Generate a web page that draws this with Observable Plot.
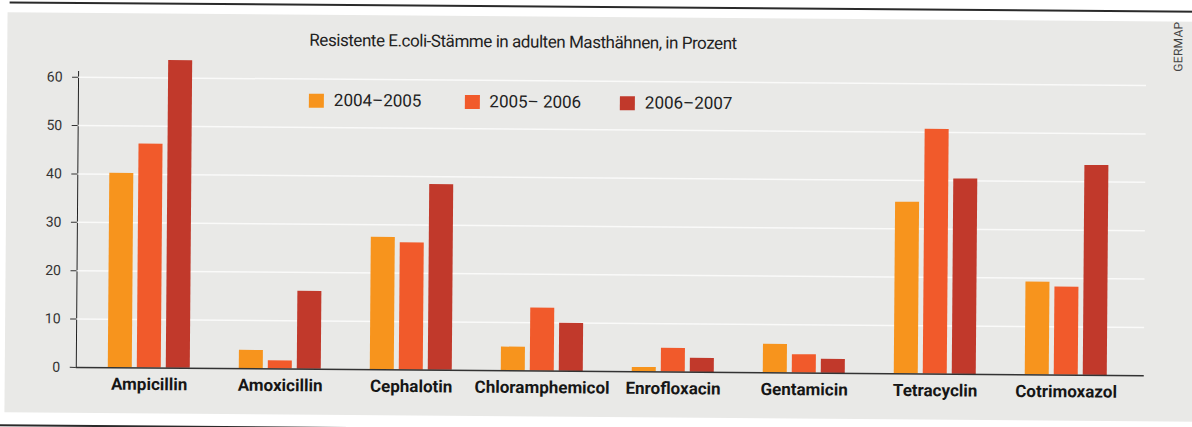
<!DOCTYPE html>
<html>
<head>
<meta charset="utf-8">
<script src="https://cdn.jsdelivr.net/npm/d3@7"></script>
<script src="https://cdn.jsdelivr.net/npm/@observablehq/plot@0.6"></script>
<style>
  html, body { margin:0; padding:0; background:#ffffff; width:1192px; height:427px; overflow:hidden; }
  #page { position:absolute; left:0; top:0; width:1192px; height:440px;
          transform: rotate(0.45deg); transform-origin: 596px 213.5px;
          font-family: Roboto, "Noto Sans", sans-serif; }
  .rule { position:absolute; height:2px; background:#2a2a2a; }
  #panel { position:absolute; left:6px; top:17px; width:1192px; height:400px; background:#e9e9e7; }
  #chart { position:absolute; left:0; top:0; }
  #title { position:absolute; left:308px; top:34px; font-size:17px; line-height:17px; color:#222; white-space:nowrap; letter-spacing:-0.45px; }
  #legend { position:absolute; left:308px; top:94px; display:flex; }
  .item { display:flex; align-items:center; width:155.5px; font-size:17px; line-height:17px; color:#222; }
  .sw { width:15px; height:14px; margin-right:10px; }
  #germap { position:absolute; left:1177px; top:42px; transform: translate(-50%,-50%) rotate(-90deg);
            font-size:12px; color:#444; letter-spacing:0.3px; white-space:nowrap; }
  #chart svg [aria-label="x-axis tick label"] { font-size:17px; font-weight:700; fill:#161616; }
  #chart svg [aria-label="y-axis tick label"] { font-size:14px; fill:#333; }
  #chart svg [aria-label="y-axis tick"] { stroke:#333; }
</style>
</head>
<body>
<div id="page">
  <div class="rule" style="left:8px; top:6px; width:1190px;"></div>
  <div id="panel"></div>
  <div id="chart"></div>
  <div id="title">Resistente E.coli-Stämme in adulten Masthähnen, in Prozent</div>
  <div id="legend"></div>
  <div id="germap">GERMAP</div>
  <div class="rule" style="left:0px; top:429px; width:1192px;"></div>
</div>
<script>
const categories = ["Ampicillin", "Amoxicillin", "Cephalotin", "Chloramphemicol", "Enrofloxacin", "Gentamicin", "Tetracyclin", "Cotrimoxazol"];
const periods = ["2004–2005", "2005– 2006", "2006–2007"];
const values2004_2005 = [40.2, 3.8, 27.4, 4.9, 0.9, 5.9, 35.5, 19.2];
const values2005_2006 = [46.3, 1.7, 26.3, 13.0, 4.9, 3.8, 50.6, 18.2];
const values2006_2007 = [63.6, 16.1, 38.4, 9.9, 2.9, 2.9, 40.4, 43.4];
const yTicks = [0, 10, 20, 30, 40, 50, 60];
const colors = ["#f7941d", "#f15a2b", "#c1392b"];

const series = [values2004_2005, values2005_2006, values2006_2007];
const rows = categories.flatMap((drug, i) =>
  periods.map((period, j) => ({drug, period, value: series[j][i]})));

// legend (HTML, above the svg)
const legend = document.getElementById("legend");
periods.forEach((p, j) => {
  const item = document.createElement("div");
  item.className = "item";
  const sw = document.createElement("div");
  sw.className = "sw";
  sw.style.background = colors[j];
  const t = document.createElement("span");
  t.textContent = p;
  item.appendChild(sw); item.appendChild(t);
  legend.appendChild(item);
});

const groupOffsets = [-29, 0, 29];

const chart = Plot.plot({
  width: 1192,
  height: 427,
  marginTop: 75,
  marginBottom: 56,
  marginLeft: 77,
  marginRight: 47,
  style: {background: "transparent", fontFamily: "Roboto, 'Noto Sans', sans-serif", color: "#222"},
  x: {domain: categories, paddingInner: 0.818, paddingOuter: 0.4635, align: 0.48, label: null, tickSize: 0, tickPadding: 10},
  y: {domain: [0, 61.2], ticks: yTicks, tickSize: 6, tickPadding: 10, line: true, label: null},
  color: {domain: periods, range: colors},
  marks: [
    Plot.ruleY(yTicks.filter(t => t > 0), {stroke: "#ffffff", strokeOpacity: 0.75, strokeWidth: 1.5}),
    ...periods.map((p, j) =>
      Plot.barY(rows.filter(d => d.period === p), {x: "drug", y: "value", fill: "period", dx: groupOffsets[j]})),
    Plot.ruleY([0], {stroke: "#333", strokeWidth: 1.5})
  ]
});
document.getElementById("chart").appendChild(chart);
</script>
</body>
</html>
